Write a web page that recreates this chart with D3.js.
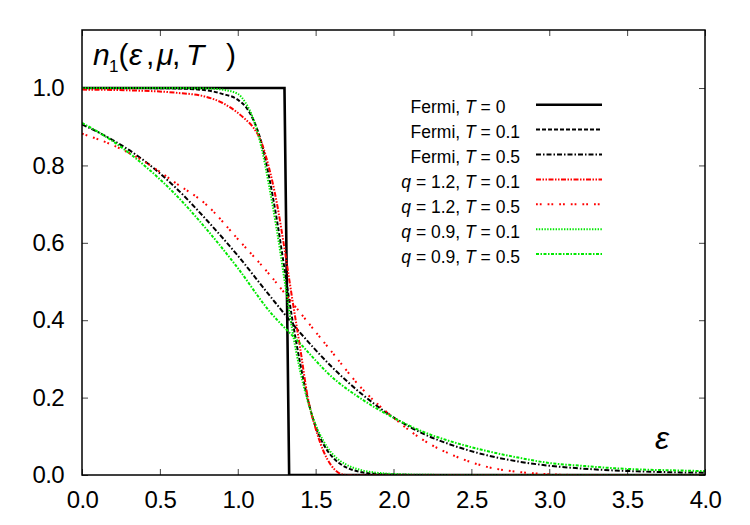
<!DOCTYPE html>
<html>
<head>
<meta charset="utf-8">
<script src="https://cdn.jsdelivr.net/npm/d3@7"></script>
<style>
  body { margin: 0; background: #fff; }
  text { font-family: "Liberation Sans", Arial, sans-serif; }
</style>
</head>
<body>
<svg id="chart" width="750" height="525"></svg>
<script>
// ---- data ----
// T = 0 step (drop between two grid points)
const stepX = [0, 1.30, 1.33, 4.0];
const stepY = [1, 1, 0, 0];

// T = 0.5 curves on a coarse grid
const xWarm = [0, 0.2, 0.4, 0.6, 0.8, 1.0, 1.2, 1.4, 1.6, 1.8, 2.0, 2.2, 2.4, 2.6, 2.8, 3.0, 3.2, 3.4, 3.6, 3.8, 4.0];
const fermiT05 = [0.906, 0.865, 0.812, 0.743, 0.659, 0.567, 0.466, 0.368, 0.281, 0.208, 0.149, 0.105, 0.074, 0.051, 0.035, 0.024, 0.017, 0.012, 0.009, 0.007, 0.006];
const q12T05 = [0.882, 0.852, 0.810, 0.755, 0.698, 0.610, 0.520, 0.420, 0.320, 0.222, 0.148, 0.088, 0.048, 0.021, 0.008, 0.002, 0, 0, 0, 0, 0];
const q09T05 = [0.910, 0.862, 0.800, 0.725, 0.635, 0.535, 0.425, 0.340, 0.255, 0.195, 0.148, 0.110, 0.083, 0.062, 0.045, 0.031, 0.024, 0.018, 0.014, 0.012, 0.010];

// T = 0.1 curves on a finer grid around the drop
const xCold = [0, 0.3, 0.6, 0.8, 0.9, 1.0, 1.05, 1.1, 1.15, 1.2, 1.25, 1.3, 1.35, 1.4, 1.45, 1.5, 1.55, 1.6, 1.65, 1.7, 1.8, 1.9, 2.0, 2.2, 2.5, 3.0, 4.0];
const fermiT01 = [1, 1, 0.999, 0.994, 0.985, 0.970, 0.952, 0.918, 0.862, 0.772, 0.662, 0.533, 0.403, 0.290, 0.195, 0.125, 0.080, 0.050, 0.031, 0.019, 0.007, 0.0025, 0.001, 0, 0, 0, 0];
const q12T01 = [0.996, 0.994, 0.988, 0.977, 0.962, 0.936, 0.919, 0.898, 0.862, 0.795, 0.705, 0.585, 0.455, 0.330, 0.200, 0.120, 0.062, 0.025, 0.005, 0, 0, 0, 0, 0, 0, 0, 0];
const q09T01 = [1, 1, 1, 0.999, 0.996, 0.985, 0.962, 0.920, 0.850, 0.750, 0.635, 0.505, 0.375, 0.270, 0.190, 0.130, 0.088, 0.058, 0.039, 0.026, 0.012, 0.0055, 0.0025, 0.0005, 0, 0, 0];

const xTicks = [0, 0.5, 1.0, 1.5, 2.0, 2.5, 3.0, 3.5, 4.0];
const yTicks = [0, 0.2, 0.4, 0.6, 0.8, 1.0];

const legendLabels = ["Fermi, T = 0\u2008\u2007", "Fermi, T = 0.1", "Fermi, T = 0.5",
  "q = 1.2, T = 0.1", "q = 1.2, T = 0.5", "q = 0.9, T = 0.1", "q = 0.9, T = 0.5"];

// ---- series table ----
const series = [
  { xs: stepX, ys: stepY, color: "#000", dash: null, width: 2.6, curve: d3.curveLinear },
  { xs: xCold, ys: fermiT01, color: "#000", dash: "4,2", width: 2, curve: d3.curveMonotoneX },
  { xs: xWarm, ys: fermiT05, color: "#000", dash: "5,2,1.5,2", width: 2, curve: d3.curveMonotoneX },
  { xs: xCold, ys: q12T01, color: "#f00", dash: "5,1.5,1.5,1.5,1.5,1.5", width: 2, curve: d3.curveMonotoneX },
  { xs: xWarm, ys: q12T05, color: "#f00", dash: "1.8,2,1.8,6", width: 2, curve: d3.curveMonotoneX },
  { xs: xCold, ys: q09T01, color: "#00e800", dash: "1.4,1.4", width: 2, curve: d3.curveMonotoneX },
  { xs: xWarm, ys: q09T05, color: "#00e800", dash: "3,1.5,1.5,1.5", width: 2, curve: d3.curveMonotoneX }
];
series.forEach((s, i) => s.label = legendLabels[i]);

// ---- layout ----
const svg = d3.select("#chart");
const m = { left: 82, right: 705, top: 30, bottom: 475 };

const x = d3.scaleLinear().domain([0, 4]).range([m.left, m.right]);
const y = d3.scaleLinear().domain([0, 1.15]).range([m.bottom, m.top]);

svg.append("defs").append("clipPath").attr("id", "plotclip")
  .append("rect")
  .attr("x", m.left).attr("y", m.top)
  .attr("width", m.right - m.left).attr("height", m.bottom - m.top);

// axes with inward ticks, mirrored on top/right
const fmt = d3.format(".1f");
const gx = svg.append("g").attr("transform", `translate(0,${m.bottom})`)
  .call(d3.axisBottom(x).tickValues(xTicks).tickSize(-6).tickPadding(0).tickFormat(fmt));
const gxTop = svg.append("g").attr("transform", `translate(0,${m.top})`)
  .call(d3.axisTop(x).tickValues(xTicks).tickSize(-6).tickFormat(""));
const gy = svg.append("g").attr("transform", `translate(${m.left},0)`)
  .call(d3.axisLeft(y).tickValues(yTicks).tickSize(-6).tickPadding(18).tickFormat(fmt));
const gyRight = svg.append("g").attr("transform", `translate(${m.right},0)`)
  .call(d3.axisRight(y).tickValues(yTicks).tickSize(-6).tickFormat(""));

[gx, gxTop, gy, gyRight].forEach(g => {
  g.select(".domain").remove();
  g.selectAll(".tick line").attr("stroke", "#444").attr("stroke-width", 1);
  g.selectAll("text").attr("font-size", 24).attr("fill", "#000")
    .attr("font-family", "Liberation Sans, Arial, sans-serif").attr("letter-spacing", -0.6);
});
gx.selectAll(".tick text").attr("dy", null).attr("y", 33);

// curves
const plot = svg.append("g").attr("clip-path", "url(#plotclip)");
const line = d3.line().x(d => x(d[0])).y(d => y(d[1]));

plot.selectAll("path.curve")
  .data(series)
  .join("path")
  .attr("class", "curve")
  .attr("fill", "none")
  .attr("stroke", d => d.color)
  .attr("stroke-width", d => d.width)
  .attr("stroke-dasharray", d => d.dash)
  .attr("d", d => line.curve(d.curve)(d.xs.map((v, i) => [v, d.ys[i]])));

// frame
svg.append("rect")
  .attr("x", m.left).attr("y", m.top)
  .attr("width", m.right - m.left).attr("height", m.bottom - m.top)
  .attr("fill", "none").attr("stroke", "#000").attr("stroke-width", 1.5);

// legend
const legend = svg.append("g");
const rowY = i => 104.7 + i * 24.9;
const entries = legend.selectAll("g").data(series).join("g");

entries.append("line")
  .attr("x1", 536).attr("x2", 602)
  .attr("y1", (d, i) => rowY(i)).attr("y2", (d, i) => rowY(i))
  .attr("stroke", d => d.color)
  .attr("stroke-width", d => d.width)
  .attr("stroke-dasharray", d => d.dash);

entries.append("text")
  .attr("x", 520)
  .attr("y", (d, i) => rowY(i) + 8.5)
  .attr("text-anchor", "end")
  .attr("font-size", 17.5)
  .each(function(d) {
    const t = d3.select(this);
    d.label.split(/([qT])/).filter(p => p !== "").forEach(p => {
      t.append("tspan")
        .attr("font-style", p === "q" || p === "T" ? "italic" : null)
        .text(p);
    });
  });

// y-axis title n1(ε, μ, T)
const title = svg.append("text").attr("y", 65).attr("font-size", 30);
title.append("tspan").attr("x", 93).attr("font-style", "italic").text("n");
title.append("tspan").attr("x", 109).attr("dy", 7).attr("font-size", 17).text("1");
title.append("tspan").attr("x", 118.5).attr("dy", -7).text("(");
title.append("tspan").attr("x", 129).attr("font-style", "italic").text("ε");
title.append("tspan").attr("x", 146).text(",");
title.append("tspan").attr("x", 157).attr("font-style", "italic").text("μ");
title.append("tspan").attr("x", 172).text(",");
title.append("tspan").attr("x", 186).attr("font-style", "italic").text("T");
title.append("tspan").attr("x", 226).text(")");

// x-axis title ε
svg.append("text")
  .attr("x", 655).attr("y", 449)
  .attr("font-size", 32).attr("font-style", "italic")
  .text("ε");
</script>
</body>
</html>
